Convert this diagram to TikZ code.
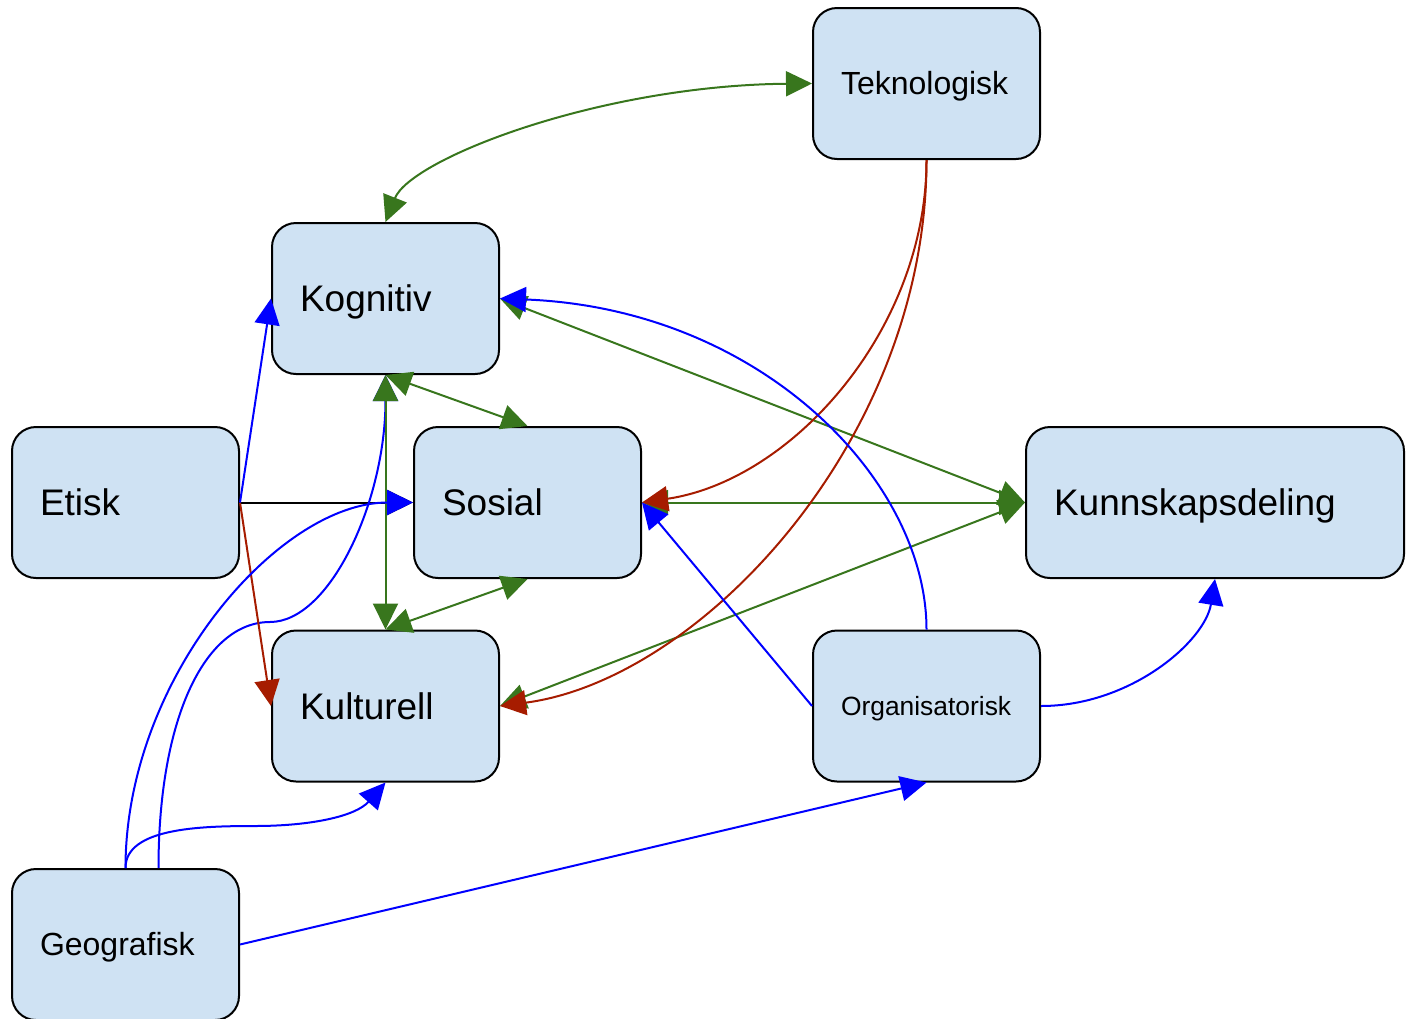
\documentclass[tikz,border=0pt]{standalone}
\usepackage{fontspec}
\setmainfont{Liberation Sans}
\usetikzlibrary{arrows.meta}
\definecolor{boxfill}{HTML}{CFE2F3}
\definecolor{linkgreen}{HTML}{38761D}
\definecolor{linkred}{HTML}{A61C00}
\definecolor{linkblue}{HTML}{0000FF}
% left-aligned label of fixed width inside a box
\newcommand{\celltext}[2]{\makebox[#1][l]{#2}}

\begin{document}
\begin{tikzpicture}[x=1pt,y=-1pt,
  >={Triangle[length=26pt,width=25pt]},
  box/.style={draw=black, line width=2pt, fill=boxfill, rounded corners=24pt,
    minimum height=151pt, inner xsep=28pt, inner ysep=0pt, text depth=0pt},
  big/.style={font=\fontsize{37}{44}\selectfont, text height=26.5pt},
  mid/.style={font=\fontsize{32}{38}\selectfont, text height=22.9pt},
  small/.style={font=\fontsize{26.4}{32}\selectfont, text height=18.9pt},
  link/.style={line width=2pt}]

\useasboundingbox (0,0) rectangle (1413,1018);

% boxes
\node[box, mid]   (tek) at (926.5,83.5)  {\celltext{171pt}{Teknologisk}};
\node[box, big]   (kog) at (385.5,298.5) {\celltext{171pt}{Kognitiv}};
\node[box, big]   (eti) at (125.5,502.5) {\celltext{171pt}{Etisk}};
\node[box, big]   (sos) at (527.5,502.5) {\celltext{171pt}{Sosial}};
\node[box, big]   (kun) at (1215,502.5)  {\celltext{322pt}{Kunnskapsdeling}};
\node[box, big]   (kul) at (385.5,706)   {\celltext{171pt}{Kulturell}};
\node[box, small] (org) at (926.5,706)   {\celltext{171pt}{Organisatorisk}};
\node[box, mid]   (geo) at (125.5,944.5) {\celltext{171pt}{Geografisk}};

% waypoints of the curved links from Geografisk
\coordinate (bendkog) at (270,622);
\coordinate (bendkul) at (255,826);

% black
\draw[link, black, ->] (eti.east) -- (sos.west);

% blue link drawn beneath the green ones
\draw[link, linkblue, ->] ([xshift=33pt]geo.north) .. controls +(0,-150) and +(-65,0) .. (bendkog)
  .. controls +(60,0) and +(0,126) .. (kog.south);

% green
\draw[link, linkgreen, <->] (tek.west) .. controls +(-213,2) and +(25,-63) .. (kog.north);
\draw[link, linkgreen, <->] (kog.south) -- (kul.north);
\draw[link, linkgreen, <->] (kog.south) -- (sos.north);
\draw[link, linkgreen, <->] (sos.south) -- (kul.north);
\draw[link, linkgreen, <->] (kog.east) -- (kun.west);
\draw[link, linkgreen, <->] (sos.east) -- (kun.west);
\draw[link, linkgreen, <->] (kul.east) -- (kun.west);

% red
\draw[link, linkred, ->] (eti.east) -- (kul.west);
\draw[link, linkred, ->] (tek.south) .. controls +(0,170) and +(150,-22) .. (sos.east);
\draw[link, linkred, ->] (tek.south) .. controls +(0,280) and +(200,-26) .. (kul.east);

% blue
\draw[link, linkblue, ->] (eti.east) -- (kog.west);
\draw[link, linkblue, ->] (org.north) .. controls +(0,-150) and +(260,10) .. (kog.east);
\draw[link, linkblue, ->] (org.west) -- (sos.east);
\draw[link, linkblue, ->] (org.east) .. controls +(90,0) and +(-10,62) .. (kun.south);
\draw[link, linkblue, ->] (geo.east) -- (org.south);
\draw[link, linkblue, ->] (geo.north) .. controls +(0,-190) and +(-134,0) .. (sos.west);
\draw[link, linkblue, ->] (geo.north) .. controls +(0,-40) and +(-55,0) .. (bendkul)
  .. controls +(55,0) and +(-30,34) .. (kul.south);

\end{tikzpicture}
\end{document}
